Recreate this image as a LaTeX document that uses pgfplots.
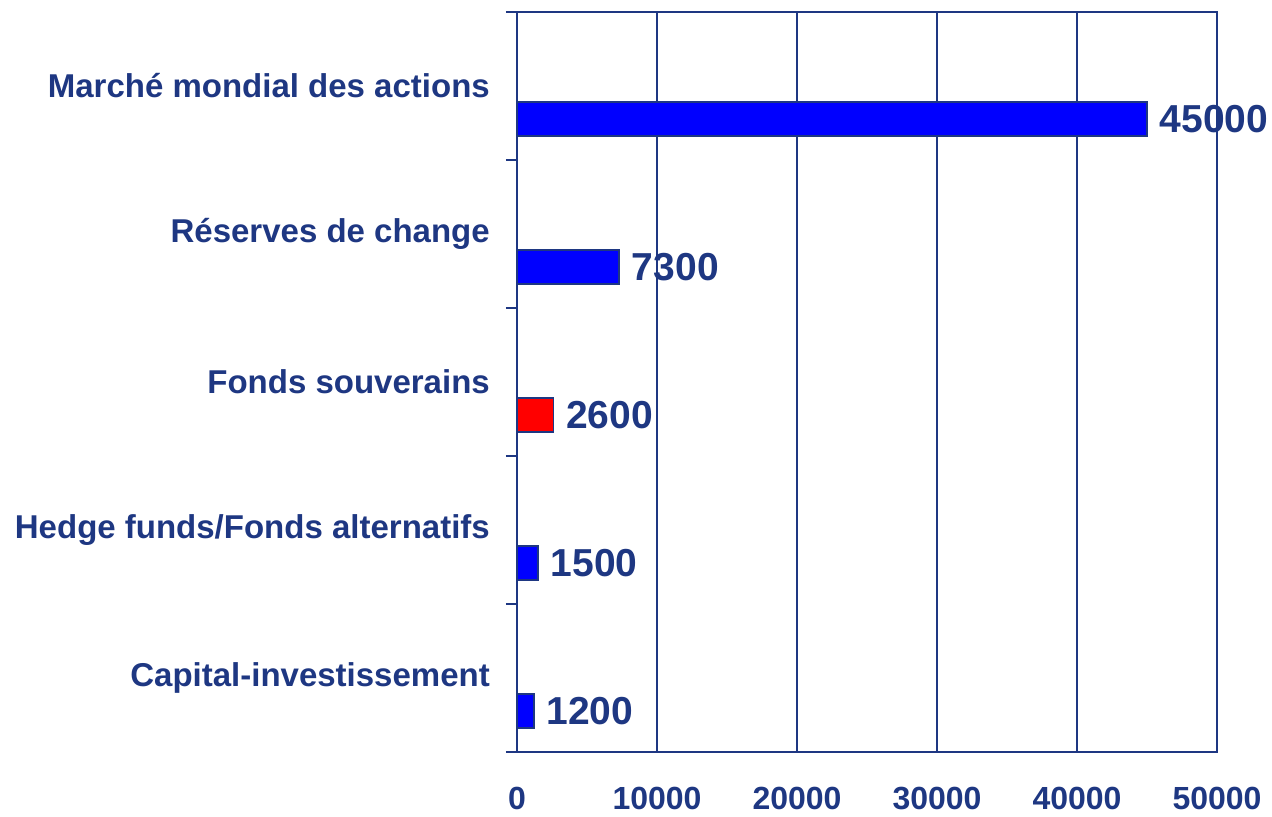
\documentclass[border=0pt]{standalone}
\usepackage{fontspec}
\setmainfont{Liberation Sans}
\usepackage{pgfplots}
\pgfplotsset{compat=1.18}
\definecolor{navy}{RGB}{30,55,130}
\definecolor{barblue}{RGB}{0,0,255}
\begin{document}
\begin{tikzpicture}
\path[use as bounding box] (0,0) rectangle (1272bp,817bp);
\begin{axis}[
  at={(517bp,65bp)}, anchor=south west,
  scale only axis, width=700bp, height=740bp,
  xmin=0, xmax=50000, ymin=0, ymax=5,
  xtick={0,10000,...,50000},
  scaled x ticks=false,
  /pgf/number format/1000 sep={},
  /pgf/number format/assume math mode=true,
  xmajorgrids, grid style={navy, line width=1.9bp},
  axis line style={navy, line width=1.9bp},
  major tick length=0pt,
  minor tick length=11bp,
  tick align=outside,
  ytick={0.5,1.5,2.5,3.5,4.5},
  yticklabels={Capital-investissement, Hedge funds/Fonds alternatifs, Fonds souverains, Réserves de change, Marché mondial des actions},
  minor ytick={0,1,2,3,4,5},
  minor tick style={navy, line width=1.9bp},
  ytick pos=left, xtick pos=bottom,
  yticklabel style={font=\fontsize{33bp}{40bp}\selectfont\bfseries, text=navy, inner sep=0pt, xshift=-27bp, anchor=east},
  xticklabel style={font=\fontsize{32bp}{38bp}\selectfont\bfseries, text=navy, inner sep=0pt, anchor=north, yshift=-35bp},
  xbar, bar width=34bp,
  point meta=x,
  nodes near coords,
  every node near coord/.append style={font=\fontsize{39bp}{46bp}\selectfont\bfseries, text=navy, anchor=west, inner sep=0pt, xshift=12bp},
]
\addplot[xbar, bar shift=0pt, fill=barblue, draw=navy, line width=1.5bp] coordinates {(45000,4.277) (7300,3.277) (1500,1.277) (1200,0.277)};
\addplot[xbar, bar shift=0pt, fill=red, draw=navy, line width=1.5bp] coordinates {(2600,2.277)};
\end{axis}
\end{tikzpicture}
\end{document}
